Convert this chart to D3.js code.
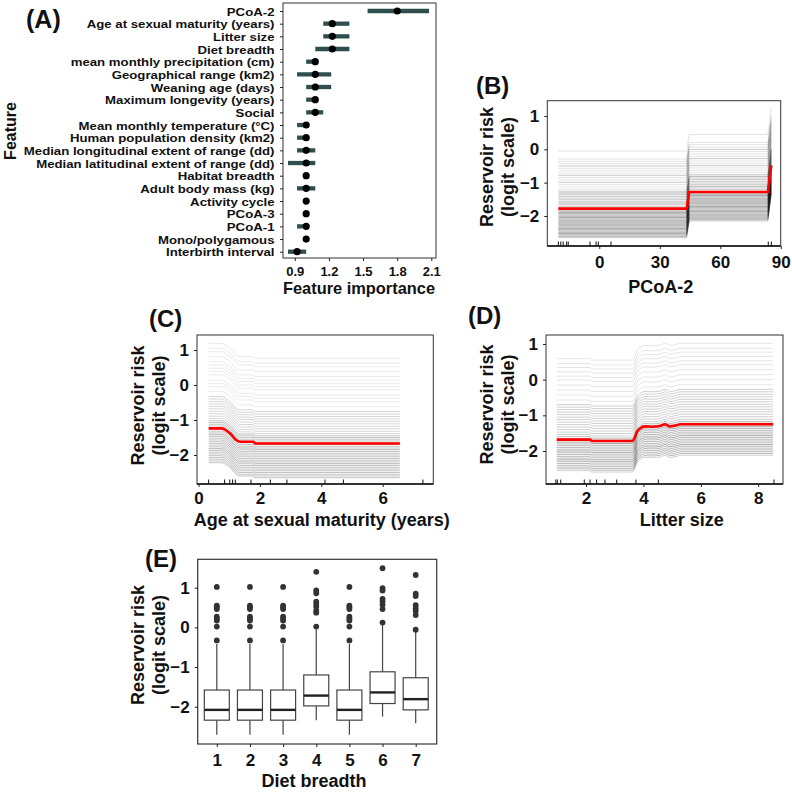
<!DOCTYPE html>
<html><head><meta charset="utf-8">
<script src="https://cdn.jsdelivr.net/npm/d3@7"></script>
<style>
body{margin:0;background:#fff}
svg{display:block}
</style>
</head><body>
<svg id="chart" width="792" height="792"></svg>
<script>
// ---------------- DATA ----------------
// Panel A: feature importance
const features = ["PCoA-2","Age at sexual maturity (years)","Litter size","Diet breadth","mean monthly precipitation (cm)","Geographical range (km2)","Weaning age (days)","Maximum longevity (years)","Social","Mean monthly temperature (°C)","Human population density (km2)","Median longitudinal extent of range (dd)","Median latitudinal extent of range (dd)","Habitat breadth","Adult body mass (kg)","Activity cycle","PCoA-3","PCoA-1","Mono/polygamous","Interbirth interval"];
const importance = [1.80,1.23,1.23,1.23,1.08,1.08,1.08,1.08,1.08,1.00,1.00,1.00,1.00,1.00,1.00,1.00,1.00,1.00,1.00,0.92];
const impLow  = [1.54,1.15,1.15,1.08,1.00,0.92,1.00,1.00,1.00,0.92,0.92,0.92,0.84,1.00,0.92,1.00,1.00,0.92,1.00,0.84];
const impHigh = [2.08,1.38,1.38,1.38,1.10,1.22,1.22,1.10,1.15,1.00,1.00,1.08,1.08,1.00,1.08,1.00,1.00,1.00,1.00,1.00];
const impTicks = [0.9,1.2,1.5,1.8,2.1];

const riskTicks = [-2,-1,0,1];

// Panel B: PCoA-2 partial dependence (red) and ICE curve levels (grey)
const pdpBx = [-20.3, 43.3, 44.6, 83.6, 85.3];
const pdpBy = [-1.78, -1.78, -1.28, -1.28, -0.48];
const iceBlevel = [-0.05,-0.29,-0.36,-0.43,-0.5,-0.57,-0.64,-0.71,-0.78,-0.85,-0.92,-0.99,-1.06,-1.13,-1.2,
  -1.26,-1.31,-1.36,-1.41,-1.46,-1.51,-1.56,-1.61,-1.66,-1.71,-1.76,
  -1.81,-1.85,-1.89,-1.93,-1.97,-2.01,-2.05,-2.09,-2.13,-2.17,-2.21,-2.25,-2.29,-2.33,-2.37,-2.41,-2.45,-2.49,-2.53,-2.57,-2.61,-2.65];
const iceBcount = [1,1,1,1,2,1,1,1,2,1,1,2,1,1,1,
  2,3,2,2,2,2,2,3,2,2,2,
  3,3,4,3,3,3,4,3,3,3,4,3,3,3,4,3,3,3,4,3,3,2];
const rugB = [-20.3,-19.1,-17.9,-16.2,-15.4,-4.6,-1.6,-0.5,5.8,83.8,85.3];
const ticksB = [0,30,60,90];

// Panel C: age at sexual maturity
const pdpCx = [0.33,0.76,0.92,1.05,1.13,1.24,1.35,1.78,1.84,6.56];
const pdpCy = [-1.24,-1.24,-1.31,-1.40,-1.48,-1.58,-1.62,-1.62,-1.67,-1.67];
const iceClevel = [1.19,1.05,0.95,0.81,0.67,0.57,0.48,0.38,0.29,0.14,0.05,-0.05,-0.19,
  -0.33,-0.4,-0.47,-0.54,-0.61,-0.68,-0.75,-0.82,-0.89,-0.96,
  -1.02,-1.07,-1.12,-1.17,-1.22,-1.27,-1.32,-1.37,-1.42,-1.47,-1.52,-1.57,-1.62,-1.67,-1.72,-1.77,-1.82,-1.87,-1.92,-1.97,-2.02,-2.07,-2.12,-2.17,-2.22];
const iceCcount = [1,1,1,1,1,1,1,1,1,1,1,1,1,
  2,2,2,2,2,2,2,2,2,2,
  3,3,3,3,3,3,3,3,4,3,3,3,3,3,3,3,4,3,3,3,3,3,3,3,3];
const rugC = [0.33,0.85,1.02,1.11,1.2,1.71,2.34,2.88,4.12,4.72,7.31];
const ticksC = [0,2,4,6];

// Panel D: litter size
const pdpDx = [0.98,2.14,2.2,3.62,3.7,3.77,3.88,4.06,4.29,4.58,4.75,4.93,5.16,5.28,8.52];
const pdpDy = [-1.68,-1.68,-1.72,-1.72,-1.62,-1.47,-1.37,-1.31,-1.32,-1.30,-1.25,-1.31,-1.28,-1.25,-1.25];
const iceDlevel = [0.59,0.45,0.34,0.22,0.1,-0.01,-0.15,-0.29,-0.43,-0.57,
  -0.7,-0.77,-0.84,-0.91,-0.98,-1.05,-1.12,-1.19,-1.26,-1.33,-1.4,-1.47,-1.54,
  -1.6,-1.65,-1.7,-1.75,-1.8,-1.85,-1.9,-1.95,-2.0,-2.05,-2.1,-2.15,-2.2,-2.25,-2.3,-2.35,-2.4,-2.45,-2.5,-2.55];
const iceDcount = [1,1,1,1,1,1,1,1,1,1,
  2,2,2,2,2,2,2,2,2,2,2,2,2,
  3,3,3,4,3,3,3,3,4,3,3,3,3,4,3,3,3,3,3,2];
const rugD = [0.95,1.0,1.12,1.94,2.14,2.37,2.66,3.07,3.74,4.52,8.55];
const ticksD = [2,4,6,8];

// Panel E: diet breadth boxplots
const dietCats = [1,2,3,4,5,6,7];
const dietQ1  = [-2.34,-2.34,-2.34,-1.98,-2.34,-1.92,-2.08];
const dietMed = [-2.08,-2.08,-2.08,-1.72,-2.08,-1.64,-1.81];
const dietQ3  = [-1.58,-1.58,-1.58,-1.20,-1.58,-1.12,-1.27];
const dietLo  = [-2.71,-2.71,-2.71,-2.34,-2.71,-2.25,-2.42];
const dietHi  = [-0.42,-0.42,-0.42,-0.05,-0.42,0.06,-0.12];
const dietOut = [
  [1.02,0.55,0.51,0.46,0.27,0.22,0.17,0.02,-0.33],
  [1.02,0.55,0.51,0.46,0.27,0.22,0.17,0.02,-0.33],
  [1.02,0.55,0.51,0.46,0.27,0.22,0.17,0.02,-0.33],
  [1.40,0.93,0.86,0.65,0.59,0.52,0.42,0.37,0.02],
  [1.02,0.55,0.51,0.46,0.27,0.22,0.17,0.02,-0.33],
  [1.49,0.99,0.93,0.72,0.65,0.57,0.46,0.12],
  [1.32,0.85,0.79,0.56,0.48,0.41,0.31,-0.06]
];

// ---------------- DRAWING ----------------
const FONT = '"Liberation Sans", Arial, Helvetica, sans-serif';
const svg = d3.select("#chart");
svg.append("rect").attr("width",792).attr("height",792).attr("fill","#fff");

function txt(g, x, y, s, size, anchor, rot){
  const t = g.append("text").attr("font-family",FONT).attr("font-weight","bold")
    .attr("font-size",size).attr("fill","#111").attr("text-anchor",anchor||"start").text(s);
  if(rot){ t.attr("transform",`translate(${x},${y}) rotate(${rot})`); }
  else { t.attr("x",x).attr("y",y); }
  return t;
}
function styleAxis(g, size){
  g.select(".domain").remove();
  g.selectAll("line").attr("stroke","#222").attr("stroke-width",1);
  g.selectAll("text").attr("font-family",FONT).attr("font-weight","bold").attr("font-size",size).attr("fill","#111");
}

// ---- Panel A ----
(function(){
  const g = svg.append("g");
  const box = {l:283, t:3, r:436, b:258};
  const x = d3.scaleLinear().domain([0.9,2.1]).range([294.8,431.3]);
  const y = d3.scalePoint().domain(features).range([11,251.7]);
  g.append("rect").attr("x",box.l).attr("y",box.t).attr("width",box.r-box.l).attr("height",box.b-box.t)
    .attr("fill","none").attr("stroke","#333").attr("stroke-width",1);
  const ya = g.append("g").attr("transform",`translate(${box.l},0)`)
    .call(d3.axisLeft(y).tickSize(3).tickPadding(5.5));
  styleAxis(ya, 11.3);
  // rows are tighter than the glyph height: keep the reference's label width with a slightly shorter font
  ya.selectAll("text").attr("dy","0.38em").each(function(){
    const w = this.getComputedTextLength();
    this.setAttribute("textLength", (w*13.2/11.3).toFixed(1));
    this.setAttribute("lengthAdjust","spacingAndGlyphs");
  });
  const xa = g.append("g").attr("transform",`translate(0,${box.b})`)
    .call(d3.axisBottom(x).tickValues(impTicks).tickFormat(d3.format(".1f")).tickSize(3).tickPadding(6));
  styleAxis(xa, 13);
  features.forEach((f,i)=>{
    if(impHigh[i] > impLow[i]){
      g.append("line").attr("x1",x(impLow[i])).attr("x2",x(impHigh[i]))
        .attr("y1",y(f)).attr("y2",y(f)).attr("stroke","#2F4F4F").attr("stroke-width",4.3);
    }
    g.append("circle").attr("cx",x(importance[i])).attr("cy",y(f)).attr("r",3.6).attr("fill","#000");
  });
  txt(g, 359, 294, "Feature importance", 16.4, "middle");
  txt(g, 15.5, 131, "Feature", 16, "middle", -90);
  txt(g, 26, 28, "(A)", 25, "start");
})();

// ---- ICE panels ----
function icePanel(c){
  const g = svg.append("g");
  const x = c.x, y = c.y, box = c.box;
  const line = d3.line().x(d=>x(d[0])).y(d=>y(d[1])).curve(c.curve);
  const y0 = c.pdpY[0];
  c.levels.forEach((lv,i)=>{
    const pts = c.pdpX.map((xv,j)=>[xv, lv + c.pdpY[j] - y0]);
    g.append("path").attr("d", line(pts)).attr("fill","none")
      .attr("stroke","#000").attr("stroke-width",1)
      .attr("stroke-opacity", 1 - Math.pow(1 - c.alpha, c.counts[i] || 1));
  });
  g.append("path").attr("d", line(c.pdpX.map((xv,j)=>[xv, c.pdpY[j]])))
    .attr("fill","none").attr("stroke","#ff0000").attr("stroke-width",2.6);
  g.append("rect").attr("x",box.l).attr("y",box.t).attr("width",box.r-box.l).attr("height",box.b-box.t)
    .attr("fill","none").attr("stroke","#333").attr("stroke-width",1);
  g.append("line").attr("x1",box.l).attr("x2",box.r).attr("y1",box.b).attr("y2",box.b)
    .attr("stroke","#111").attr("stroke-width",1.4);
  c.rug.forEach(r=>{
    g.append("line").attr("x1",x(r)).attr("x2",x(r)).attr("y1",box.b).attr("y2",box.b-4.5)
      .attr("stroke","#111").attr("stroke-width",1);
  });
  const ya = g.append("g").attr("transform",`translate(${box.l},0)`)
    .call(d3.axisLeft(y).tickValues(riskTicks).tickFormat(d3.format("d")).tickSize(3).tickPadding(5));
  styleAxis(ya, 17);
  const xa = g.append("g").attr("transform",`translate(0,${box.b})`)
    .call(d3.axisBottom(x).tickValues(c.xTicks).tickFormat(d3.format("d")).tickSize(3).tickPadding(c.tpad));
  styleAxis(xa, 17);
  txt(g, c.xl[0], c.xl[1], c.xlab, 18, "middle");
  txt(g, c.yl[0], c.yl[2], "Reservoir risk", 18, "middle", -90);
  txt(g, c.yl[1], c.yl[2], "(logit scale)", 18, "middle", -90);
  txt(g, c.tag[0], c.tag[1], c.tagText, 24, "start");
}

icePanel({
  box:{l:547.3,t:100.7,r:780.7,b:246},
  x: d3.scaleLinear().domain([0,90]).range([599.3,780.8]),
  y: d3.scaleLinear().domain([1,-2]).range([116,216]),
  pdpX: pdpBx, pdpY: pdpBy, levels: iceBlevel, counts: iceBcount, alpha: 0.115,
  rug: rugB, xTicks: ticksB, curve: d3.curveLinear, tpad: 6.5,
  xlab: "PCoA-2", xl:[660.7,293], yl:[492.5,513.5,167], tag:[476,94], tagText:"(B)"
});
icePanel({
  box:{l:197,t:335,r:433.3,b:484},
  x: d3.scaleLinear().domain([0,6]).range([198.5,382.7]),
  y: d3.scaleLinear().domain([1,-2]).range([350,455]),
  pdpX: pdpCx, pdpY: pdpCy, levels: iceClevel, counts: iceCcount, alpha: 0.085,
  rug: rugC, xTicks: ticksC, curve: d3.curveMonotoneX, tpad: 5,
  xlab: "Age at sexual maturity (years)", xl:[321.7,526], yl:[143.5,164.5,405.5], tag:[149,326.5], tagText:"(C)"
});
icePanel({
  box:{l:546,t:335,r:783,b:484},
  x: d3.scaleLinear().domain([2,8]).range([586,758.2]),
  y: d3.scaleLinear().domain([1,-2]).range([344,451]),
  pdpX: pdpDx, pdpY: pdpDy, levels: iceDlevel, counts: iceDcount, alpha: 0.1,
  rug: rugD, xTicks: ticksD, curve: d3.curveMonotoneX, tpad: 5,
  xlab: "Litter size", xl:[681.7,525.5], yl:[492.5,513.5,404.5], tag:[468,324], tagText:"(D)"
});

// ---- Panel E ----
(function(){
  const g = svg.append("g");
  const box = {l:197.7,t:559.3,r:436.7,b:744};
  const x = d3.scaleLinear().domain([1,7]).range([216.8,415.7]);
  const y = d3.scaleLinear().domain([1,-2]).range([587.7,706.7]);
  const hw = 12.5;
  dietCats.forEach((c,i)=>{
    const cx = x(c);
    g.append("line").attr("x1",cx).attr("x2",cx).attr("y1",y(dietQ3[i])).attr("y2",y(dietHi[i]))
      .attr("stroke","#444").attr("stroke-width",1.2);
    g.append("line").attr("x1",cx).attr("x2",cx).attr("y1",y(dietQ1[i])).attr("y2",y(dietLo[i]))
      .attr("stroke","#444").attr("stroke-width",1.2);
    g.append("rect").attr("x",cx-hw).attr("y",y(dietQ3[i])).attr("width",2*hw)
      .attr("height",y(dietQ1[i])-y(dietQ3[i])).attr("fill","#fff").attr("stroke","#444").attr("stroke-width",1.2);
    g.append("line").attr("x1",cx-hw).attr("x2",cx+hw).attr("y1",y(dietMed[i])).attr("y2",y(dietMed[i]))
      .attr("stroke","#222").attr("stroke-width",2.4);
    dietOut[i].forEach(o=>{
      g.append("circle").attr("cx",cx).attr("cy",y(o)).attr("r",2.9).attr("fill","#333");
    });
  });
  g.append("rect").attr("x",box.l).attr("y",box.t).attr("width",box.r-box.l).attr("height",box.b-box.t)
    .attr("fill","none").attr("stroke","#333").attr("stroke-width",1.2);
  const ya = g.append("g").attr("transform",`translate(${box.l},0)`)
    .call(d3.axisLeft(y).tickValues(riskTicks).tickFormat(d3.format("d")).tickSize(3).tickPadding(5));
  styleAxis(ya, 17);
  const xa = g.append("g").attr("transform",`translate(0,${box.b})`)
    .call(d3.axisBottom(x).tickValues(dietCats).tickFormat(d3.format("d")).tickSize(3).tickPadding(6.5));
  styleAxis(xa, 17);
  txt(g, 314, 787, "Diet breadth", 18, "middle");
  txt(g, 143.5, 645, "Reservoir risk", 18, "middle", -90);
  txt(g, 164.5, 645, "(logit scale)", 18, "middle", -90);
  txt(g, 145, 567, "(E)", 24, "start");
})();
</script>
</body></html>
